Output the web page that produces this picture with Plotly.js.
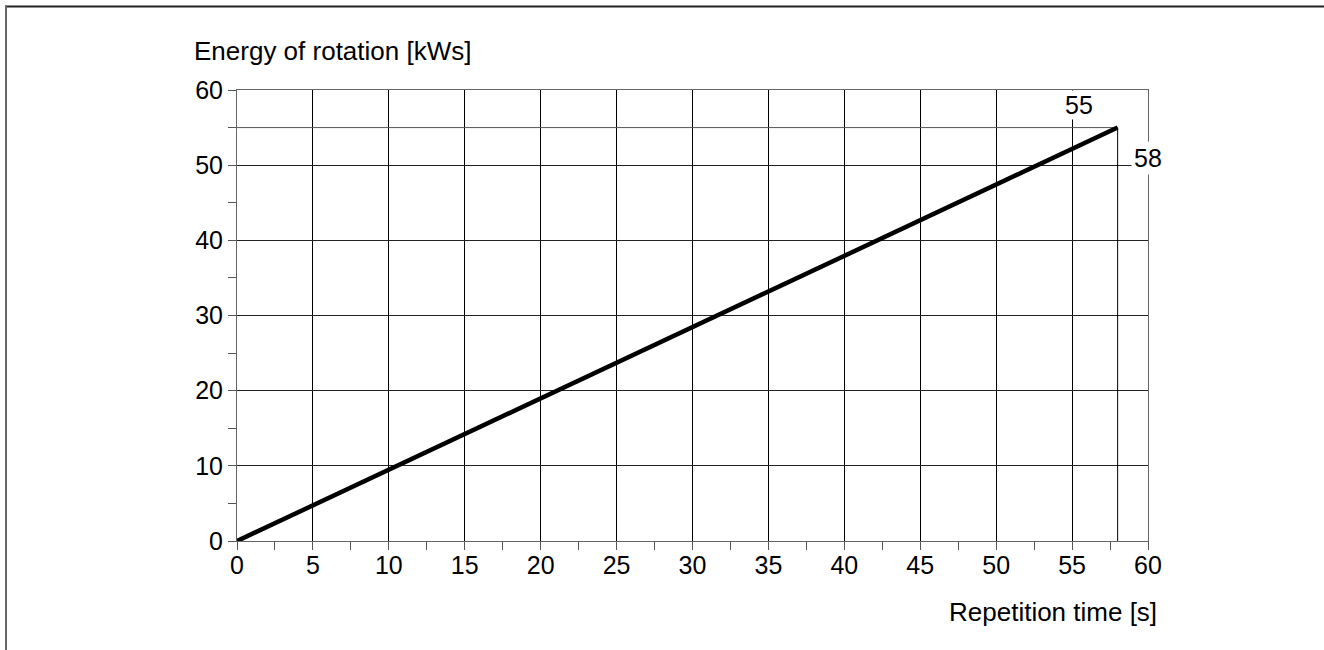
<!DOCTYPE html>
<html>
<head>
<meta charset="utf-8">
<script src="https://cdn.plot.ly/plotly-3.0.1.min.js"></script>
<style>
html,body{margin:0;padding:0;background:#fff;}
#chart{width:1324px;height:650px;}
</style>
</head>
<body>
<div id="chart"></div>
<script>
// Data
const repetitionTime = [0, 58];      // s
const energyRotation = [0, 55];      // kWs
const xTickVals = [0,5,10,15,20,25,30,35,40,45,50,55,60];
const yTickVals = [0,10,20,30,40,50,60];
const xTitle = "Repetition time [s]";
const yTitle = "Energy of rotation [kWs]";

const xEnd = repetitionTime[repetitionTime.length-1];
const yEnd = energyRotation[energyRotation.length-1];

const FONT = "Liberation Sans, Arial, Helvetica, sans-serif";
const TICK = 25, TITLE = 26;

const traces = [
  { x: [0, xEnd], y: [yEnd, yEnd], mode: 'lines', line: {color: '#555', width: 1}, hoverinfo: 'skip', showlegend: false },
  { x: [xEnd, xEnd], y: [0, yEnd], mode: 'lines', line: {color: '#000', width: 1}, hoverinfo: 'skip', showlegend: false },
  { x: repetitionTime, y: energyRotation, mode: 'lines', line: {color: '#000', width: 4.5}, showlegend: false }
];

const pxX = v => (v - 237) / 911;
const pxY = v => (541 - v) / 451;

const layout = {
  width: 1324, height: 650,
  margin: {l: 237, r: 176, t: 90, b: 109},
  paper_bgcolor: '#fff', plot_bgcolor: '#fff',
  font: {family: FONT, size: TICK, color: '#000'},
  showlegend: false,
  xaxis: {
    range: [0, 60], tickvals: xTickVals, ticktext: xTickVals.map(String),
    ticks: 'outside', ticklen: 8, tickcolor: '#555', tickwidth: 1,
    ticklabelstandoff: -6,
    showline: true, linecolor: '#666', linewidth: 1, mirror: true,
    showgrid: true, gridcolor: '#000', gridwidth: 1, zeroline: false,
    minor: {dtick: 2.5, ticks: 'outside', ticklen: 8, tickcolor: '#555', showgrid: false},
    tickfont: {family: FONT, size: TICK}, fixedrange: true
  },
  yaxis: {
    range: [0, 60], tickvals: yTickVals, ticktext: yTickVals.map(String),
    ticks: 'outside', ticklen: 8, tickcolor: '#555', tickwidth: 1,
    showline: true, linecolor: '#666', linewidth: 1, mirror: true,
    showgrid: true, gridcolor: '#222', gridwidth: 1, zeroline: false,
    minor: {dtick: 5, ticks: 'outside', ticklen: 8, tickcolor: '#555', showgrid: false},
    tickfont: {family: FONT, size: TICK}, fixedrange: true
  },
  annotations: [
    { xref: 'paper', yref: 'paper', x: 0, y: 1, xanchor: 'left', yanchor: 'middle',
      xshift: -45, yshift: 39, text: yTitle, showarrow: false, font: {family: FONT, size: TITLE} },
    { xref: 'paper', yref: 'paper', x: 1, y: 0, xanchor: 'right', yanchor: 'middle',
      xshift: 11, yshift: -71, text: xTitle, showarrow: false, font: {family: FONT, size: TITLE} },
    { xref: 'x', yref: 'y', x: 55.45, y: 58.0, xanchor: 'center', yanchor: 'middle',
      text: String(yEnd), showarrow: false, bgcolor: '#fff', borderpad: 0, font: {family: FONT, size: TICK} },
    { xref: 'x', yref: 'y', x: 60, y: 50.9, xanchor: 'center', yanchor: 'middle',
      text: String(xEnd), showarrow: false, bgcolor: '#fff', borderpad: 2, font: {family: FONT, size: TICK} }
  ],
  shapes: [
    { type: 'line', xref: 'paper', yref: 'paper', x0: pxX(5), x1: pxX(1330), y0: pxY(6.5), y1: pxY(6.5),
      line: {color: '#222', width: 2} },
    { type: 'line', xref: 'paper', yref: 'paper', x0: pxX(6), x1: pxX(6), y0: pxY(5.5), y1: pxY(660),
      line: {color: '#666', width: 2} }
  ]
};

Plotly.newPlot('chart', traces, layout, {displayModeBar: false, staticPlot: true});
</script>
</body>
</html>
